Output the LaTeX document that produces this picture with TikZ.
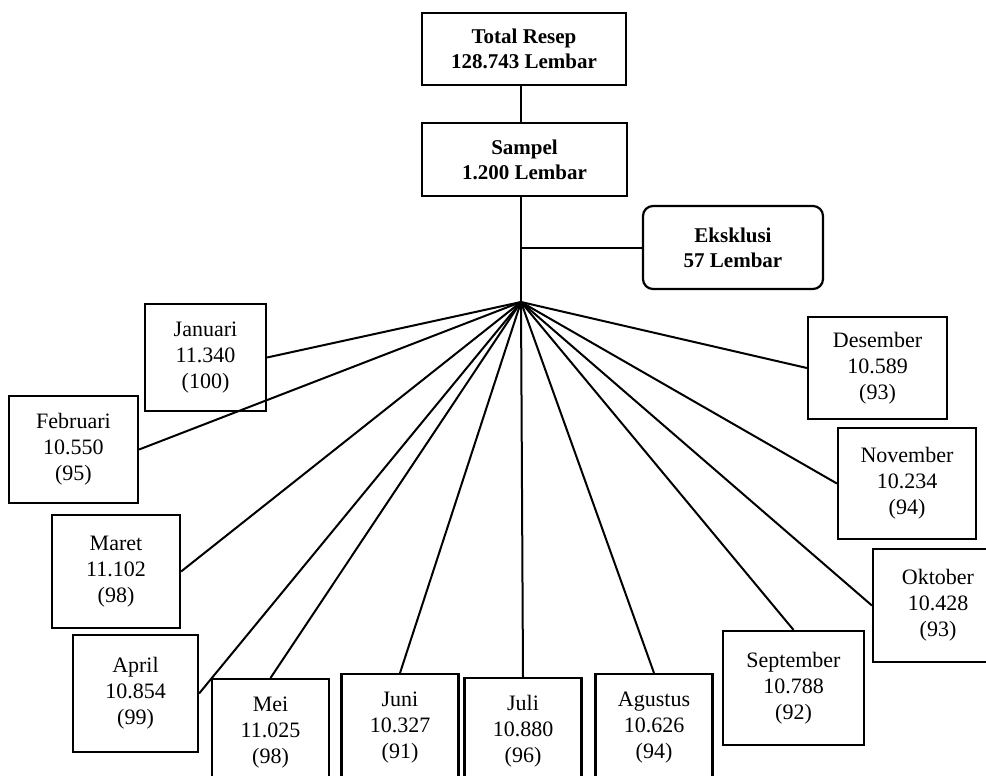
\documentclass[tikz,border=0pt]{standalone}
\usepackage{fontspec}
\setmainfont{Liberation Serif}
\begin{document}
\begin{tikzpicture}[x=1pt,y=-1pt,line width=2pt,
	kotak/.style={draw,line width=2.2pt,align=center,inner sep=0pt,font=\fontsize{22}{26}\selectfont},
	judul/.style={kotak,font=\fontsize{21}{25}\selectfont\bfseries},
	bawah/.style={kotak,anchor=north,minimum width=117,minimum height=106}]
				\clip (0,0) rectangle (986,776);
				\coordinate (hub) at (521,302);
				\node[judul,minimum width=204,minimum height=72] (total) at (524,49) {Total Resep\\128.743 Lembar};
				\node[judul,minimum width=205,minimum height=73] (sampel) at (524.5,159.5) {Sampel\\1.200 Lembar};
				\node[judul,rounded corners=10pt,minimum width=180,minimum height=83] (eksklusi) at (733,247.5) {Eksklusi\\57 Lembar};
				\node[kotak,minimum width=121,minimum height=107] (jan) at (205.5,357.5) {Januari\\11.340\\(100)};
				\node[kotak,minimum width=129,minimum height=107] (feb) at (73.5,449.5) {Februari\\10.550\\(95)};
				\node[kotak,minimum width=128,minimum height=113] (mar) at (116,571.5) {Maret\\11.102\\(98)};
				\node[kotak,minimum width=125,minimum height=117] (apr) at (135.5,693.5) {April\\10.854\\(99)};
				\node[bawah] (mei) at (270.5,678) {Mei\\11.025\\(98)};
				\node[bawah] (jun) at (400,673) {Juni\\10.327\\(91)};
				\node[bawah] (jul) at (523,677) {Juli\\10.880\\(96)};
				\node[bawah] (agu) at (654,673) {Agustus\\10.626\\(94)};
				\node[kotak,minimum width=141,minimum height=114] (sep) at (793.5,688) {September\\10.788\\(92)};
				\node[kotak,minimum width=130,minimum height=113] (okt) at (938,605.5) {Oktober\\10.428\\(93)};
				\node[kotak,minimum width=138,minimum height=111] (nov) at (907,483.5) {November\\10.234\\(94)};
				\node[kotak,minimum width=139,minimum height=102] (des) at (877.5,368) {Desember\\10.589\\(93)};
				\draw (total.south -| hub) -- (sampel.north -| hub);
				\draw (sampel.south -| hub) -- (hub);
				\draw (eksklusi.west) -- (eksklusi.west -| hub);
				\foreach \bulan/\sisi in {jan/east,feb/east,mar/east,apr/east,mei/north,jun/north,jul/north,agu/north,sep/north,okt/west,nov/west,des/west}
				\draw (hub) -- (\bulan.\sisi);
\end{tikzpicture}
\end{document}
